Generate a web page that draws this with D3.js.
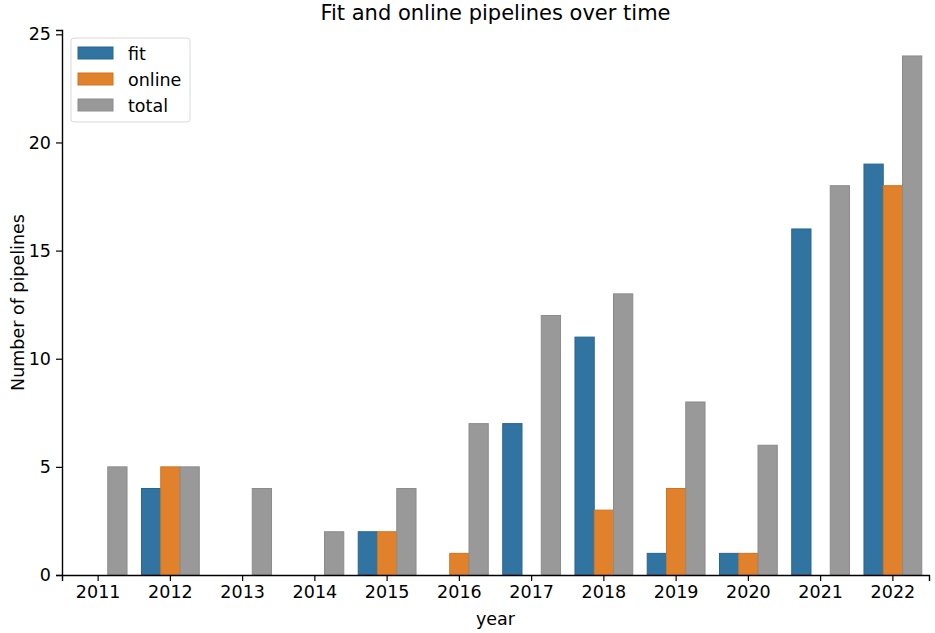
<!DOCTYPE html>
<html>
<head>
<meta charset="utf-8">
<script src="https://cdn.jsdelivr.net/npm/d3@7"></script>
<style>
  body { margin: 0; background: #fff; }
  svg { display: block; }
  svg text { font-family: "DejaVu Sans", sans-serif; fill: #000; }
</style>
</head>
<body>
<div id="chart"></div>
<script>
"use strict";

// Data
const years = ["2011", "2012", "2013", "2014", "2015", "2016", "2017", "2018", "2019", "2020", "2021", "2022"];
const fitValues = [0, 4, 0, 0, 2, 0, 7, 11, 1, 1, 16, 19];
const onlineValues = [0, 5, 0, 0, 2, 1, 0, 3, 4, 1, 0, 18];
const totalValues = [5, 5, 4, 2, 4, 7, 12, 13, 8, 6, 18, 24];
const seriesNames = ["fit", "online", "total"];
const yTicks = [0, 5, 10, 15, 20, 25];

const colors = { fit: "#3274a1", online: "#e1812c", total: "#999999" };
const edges = { fit: "#2a6490", online: "#d0741f", total: "#8c8c8c" };

const width = 935;
const height = 633;
const margin = { top: 30, right: 6, bottom: 58, left: 62 };
const fontSize = "17.5px";

const svg = d3.select("#chart")
  .append("svg")
  .attr("width", width)
  .attr("height", height);

// pandas-style category axis: each year gets a band of 1 unit, bars fill 0.8 of it
const x = d3.scaleBand()
  .domain(years)
  .range([margin.left, width - margin.right])
  .paddingInner(0.2)
  .paddingOuter(0.1);

const xSub = d3.scaleBand()
  .domain(seriesNames)
  .range([0, x.bandwidth()]);

const yMax = d3.max(totalValues) * 1.05;
const y = d3.scaleLinear()
  .domain([0, yMax])
  .range([height - margin.bottom, margin.top]);

// Rows for the grouped bars
const rows = years.map((yr, i) => ({
  year: yr,
  fit: fitValues[i],
  online: onlineValues[i],
  total: totalValues[i]
}));

const groups = svg.append("g")
  .selectAll("g")
  .data(rows)
  .join("g")
  .attr("transform", d => `translate(${x(d.year)},0)`);

groups.selectAll("rect")
  .data(d => seriesNames.map(k => ({ key: k, value: d[k] })))
  .join("rect")
  .attr("x", d => xSub(d.key))
  .attr("width", xSub.bandwidth())
  .attr("y", d => y(d.value))
  .attr("height", d => y(0) - y(d.value))
  .attr("fill", d => colors[d.key])
  .attr("stroke", d => d.value > 0 ? edges[d.key] : "none")
  .attr("stroke-width", 1);

// Axes
const xAxis = svg.append("g")
  .attr("transform", `translate(0,${height - margin.bottom})`)
  .call(d3.axisBottom(x).tickSizeOuter(0).tickSize(6).tickPadding(5));

const yAxis = svg.append("g")
  .attr("transform", `translate(${margin.left},0)`)
  .call(d3.axisLeft(y).tickValues(yTicks).tickSizeOuter(0).tickSize(6).tickPadding(5));

[xAxis, yAxis].forEach(ax => {
  ax.attr("font-family", null).attr("font-size", null);
  ax.selectAll("text").style("font-size", fontSize);
  ax.selectAll("line").attr("stroke", "#000").attr("stroke-width", 1.2);
  ax.select(".domain").attr("stroke", "#000").attr("stroke-width", 1.4);
});

// Title and axis labels
svg.append("text")
  .attr("x", (margin.left + width - margin.right) / 2)
  .attr("y", 20)
  .attr("text-anchor", "middle")
  .style("font-size", "21px")
  .text("Fit and online pipelines over time");

svg.append("text")
  .attr("x", (margin.left + width - margin.right) / 2)
  .attr("y", 625)
  .attr("text-anchor", "middle")
  .style("font-size", fontSize)
  .text("year");

svg.append("text")
  .attr("transform", `translate(24,${(margin.top + height - margin.bottom) / 2}) rotate(-90)`)
  .attr("text-anchor", "middle")
  .style("font-size", fontSize)
  .text("Number of pipelines");

// Legend
const legend = svg.append("g").attr("transform", "translate(71,38)");

legend.append("rect")
  .attr("width", 119)
  .attr("height", 84)
  .attr("rx", 3)
  .attr("fill", "#fff")
  .attr("fill-opacity", 0.8)
  .attr("stroke", "#d9d9d9");

seriesNames.forEach((name, i) => {
  const row = legend.append("g").attr("transform", `translate(7,${9 + i * 26})`);
  row.append("rect")
    .attr("width", 35)
    .attr("height", 12)
    .attr("fill", colors[name])
    .attr("stroke", edges[name]);
  row.append("text")
    .attr("x", 50)
    .attr("y", 13)
    .style("font-size", fontSize)
    .text(name);
});
</script>
</body>
</html>
